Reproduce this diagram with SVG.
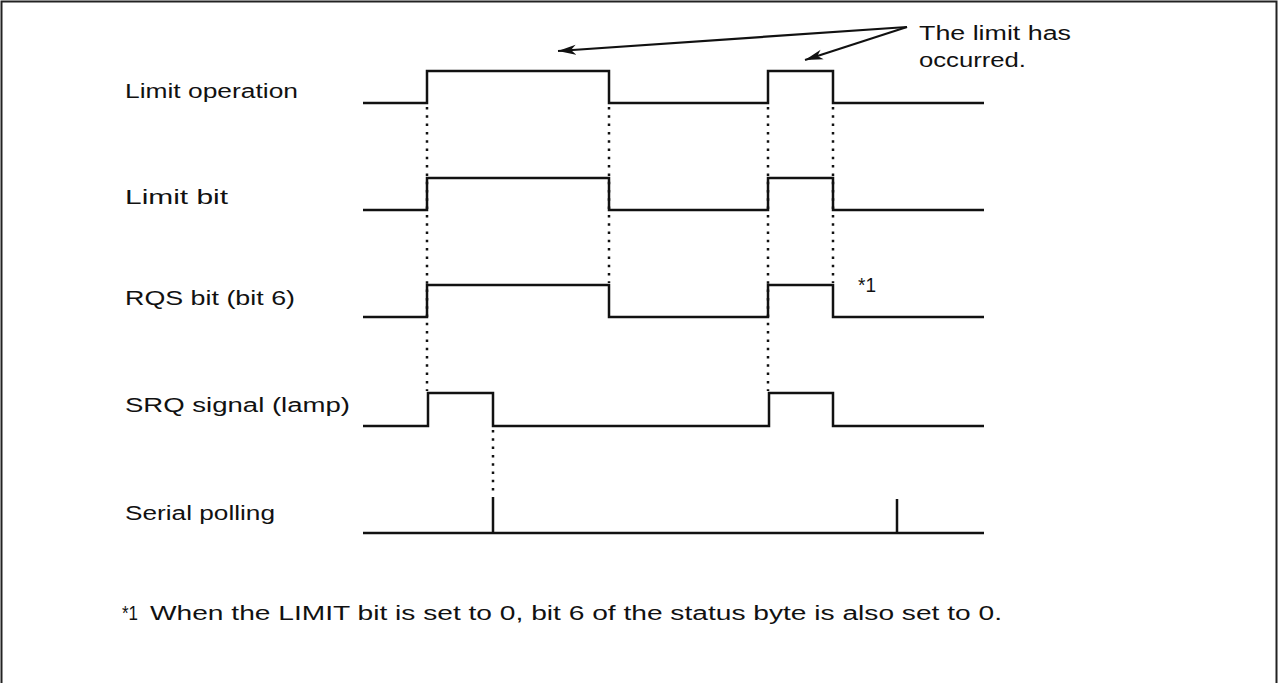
<svg xmlns="http://www.w3.org/2000/svg" width="1278" height="683" viewBox="0 0 1278 683">
<style>
.t{font-family:"Liberation Sans",Arial,sans-serif;font-size:20px;fill:#111}
.w{fill:none;stroke:#111;stroke-width:2.5;stroke-linejoin:miter}
.d{fill:none;stroke:#111;stroke-width:2.5;stroke-dasharray:2.5 5.8}
.a{fill:none;stroke:#111;stroke-width:2.2}
.b{fill:none;stroke:#222;stroke-width:2}
</style>
<defs>
<marker id="ah" markerWidth="20" markerHeight="12" refX="18" refY="6" orient="auto" markerUnits="userSpaceOnUse">
<path d="M0,1 L18,6 L0,11 L5,6 Z" fill="#111"/>
</marker>
</defs>
<rect width="1278" height="683" fill="#fff"/>
<g id="frame"><path class="b" d="M1.5,683 V1.5 H1276.5 V683"/></g>

<g id="labels">
<text id="lbl-limit-op" class="t" x="125" y="98" textLength="173" lengthAdjust="spacingAndGlyphs">Limit operation</text>
<text id="lbl-limit-bit" class="t" x="125" y="204" textLength="103" lengthAdjust="spacingAndGlyphs">Limit bit</text>
<text id="lbl-rqs" class="t" x="125" y="305" textLength="170" lengthAdjust="spacingAndGlyphs">RQS bit (bit 6)</text>
<text id="lbl-srq" class="t" x="125" y="412" textLength="225" lengthAdjust="spacingAndGlyphs">SRQ signal (lamp)</text>
<text id="lbl-serial" class="t" x="125" y="520" textLength="150" lengthAdjust="spacingAndGlyphs">Serial polling</text>
</g>

<g id="wave-limit-op"><path class="w" d="M363,103 H427 V71 H609 V103 H768 V71 H833 V103 H984"/></g>
<g id="wave-limit-bit"><path class="w" d="M363,210 H427 V178 H609 V210 H768 V178 H833 V210 H984"/></g>
<g id="wave-rqs"><path class="w" d="M363,317 H427 V285 H609 V317 H768 V285 H833 V317 H984"/></g>
<g id="wave-srq"><path class="w" d="M363,426 H428 V393 H493 V426 H769 V393 H833 V426 H984"/></g>
<g id="wave-serial"><path class="w" d="M363,533 H984 M493,533 V497 M897,533 V499"/></g>

<g id="connectors">
<path class="d" d="M427,107 V391"/>
<path class="d" d="M609,107 V283"/>
<path class="d" d="M768,107 V391"/>
<path class="d" d="M833,107 V283"/>
<path class="d" d="M493,430 V495"/>
<path class="a" d="M907,27 L558,51" marker-end="url(#ah)"/>
<path class="a" d="M907,27 L805,60" marker-end="url(#ah)"/>
</g>

<g id="note-limit">
<text class="t" x="919" y="40" textLength="152" lengthAdjust="spacingAndGlyphs">The limit has</text>
<text class="t" x="919" y="67" textLength="107" lengthAdjust="spacingAndGlyphs">occurred.</text>
</g>
<g id="note-star"><text class="t" x="858" y="292" textLength="18" lengthAdjust="spacingAndGlyphs">*1</text></g>
<g id="footnote"><text class="t" x="122" y="620"><tspan textLength="16" lengthAdjust="spacingAndGlyphs">*1</tspan><tspan x="150" textLength="852" lengthAdjust="spacingAndGlyphs">When the LIMIT bit is set to 0, bit 6 of the status byte is also set to 0.</tspan></text></g>
</svg>
